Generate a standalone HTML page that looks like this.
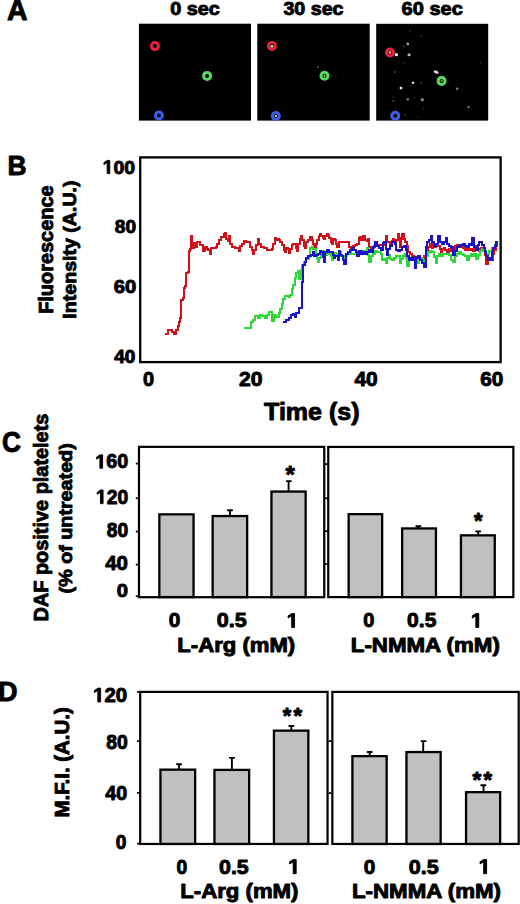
<!DOCTYPE html>
<html><head><meta charset="utf-8"><title>Figure</title>
<style>
html,body{margin:0;padding:0;background:#fff;}
body{width:520px;height:904px;overflow:hidden;}
svg{display:block;font-family:"Liberation Sans", sans-serif;}
</style></head>
<body>
<svg width="520" height="904" viewBox="0 0 520 904" fill="#000">
<rect width="520" height="904" fill="#fff"/>
<text x="7.04" y="19.95" font-size="28.78" font-weight="bold" textLength="20.56" lengthAdjust="spacingAndGlyphs" stroke="#000" stroke-width="0.9" stroke-linejoin="round">A</text>
<text x="170.17" y="14.67" font-size="18.22" font-weight="bold" textLength="49.67" lengthAdjust="spacingAndGlyphs" stroke="#000" stroke-width="0.9" stroke-linejoin="round">0 sec</text>
<text x="283.40" y="14.65" font-size="18.18" font-weight="bold" textLength="60.13" lengthAdjust="spacingAndGlyphs" stroke="#000" stroke-width="0.9" stroke-linejoin="round">30 sec</text>
<text x="401.62" y="14.67" font-size="18.22" font-weight="bold" textLength="61.22" lengthAdjust="spacingAndGlyphs" stroke="#000" stroke-width="0.9" stroke-linejoin="round">60 sec</text>
<rect x="138.9" y="23.7" width="112.1" height="96.9" fill="#000"/>
<rect x="257.3" y="23.7" width="112.4" height="96.9" fill="#000"/>
<rect x="376.2" y="23.8" width="112.0" height="96.8" fill="#000"/>
<defs><filter id="bl" x="-50%" y="-50%" width="200%" height="200%"><feGaussianBlur stdDeviation="0.55"/></filter><filter id="bl2" x="-100%" y="-100%" width="300%" height="300%"><feGaussianBlur stdDeviation="0.7"/></filter></defs>
<g filter="url(#bl)">
<circle cx="154.9" cy="46.1" r="3.5" fill="none" stroke="#e8203e" stroke-width="3.0"/>
<circle cx="207.1" cy="75.9" r="3.5" fill="none" stroke="#5ada5a" stroke-width="3.0"/>
<circle cx="158.9" cy="115.5" r="3.5" fill="none" stroke="#3c5ee8" stroke-width="3.0"/>
<circle cx="271.9" cy="46.0" r="3.5" fill="none" stroke="#e8203e" stroke-width="3.0"/>
<circle cx="324.5" cy="75.8" r="3.5" fill="none" stroke="#5ada5a" stroke-width="3.0"/>
<circle cx="275.8" cy="115.9" r="3.5" fill="none" stroke="#3c5ee8" stroke-width="3.0"/>
<circle cx="390.0" cy="52.5" r="3.5" fill="none" stroke="#e8203e" stroke-width="3.0"/>
<circle cx="441.6" cy="80.9" r="3.5" fill="none" stroke="#5ada5a" stroke-width="3.0"/>
<circle cx="395.3" cy="115.7" r="3.5" fill="none" stroke="#3c5ee8" stroke-width="3.0"/>
</g>
<g filter="url(#bl2)">
<circle cx="271.9" cy="46.3" r="1.4" fill="#d8e8a8"/>
<circle cx="324.5" cy="75.8" r="1.1" fill="#b0d890"/>
<circle cx="275.8" cy="116.2" r="1.1" fill="#d0e0ff"/>
<circle cx="318" cy="66.8" r="0.9" fill="#666"/>
<circle cx="390.0" cy="52.5" r="1.4" fill="#d0a040"/>
<circle cx="441.6" cy="80.9" r="1.1" fill="#80a040"/>
<circle cx="396.4" cy="54.7" r="1.6" fill="#f4f4f4"/>
<circle cx="407.8" cy="43.9" r="1.3" fill="#aaa"/>
<circle cx="409" cy="54.7" r="1.5" fill="#bbb"/>
<circle cx="404" cy="46.5" r="0.9" fill="#444"/>
<circle cx="421.2" cy="35.8" r="1.0" fill="#333"/>
<circle cx="404.5" cy="62.7" r="0.9" fill="#333"/>
<circle cx="410" cy="31" r="0.9" fill="#2a2a2a"/>
<circle cx="394.8" cy="72" r="1.1" fill="#444"/>
<circle cx="413.1" cy="82.8" r="1.3" fill="#ddd"/>
<circle cx="401" cy="88.1" r="1.4" fill="#eee"/>
<circle cx="421.2" cy="82.8" r="1.0" fill="#383838"/>
<circle cx="407.8" cy="99.4" r="1.3" fill="#777"/>
<circle cx="422.3" cy="99.7" r="1.6" fill="#888"/>
<circle cx="393.2" cy="101" r="1.0" fill="#444"/>
<circle cx="393.2" cy="97.3" r="0.9" fill="#2a2a2a"/>
<circle cx="414.2" cy="97.8" r="0.9" fill="#2a2a2a"/>
<circle cx="423.4" cy="108.6" r="1.0" fill="#2a2a2a"/>
<circle cx="405" cy="114.5" r="1.0" fill="#2a2a2a"/>
<circle cx="418" cy="116.7" r="0.9" fill="#222"/>
<circle cx="457.2" cy="88.8" r="1.2" fill="#888"/>
<circle cx="468.6" cy="107" r="1.2" fill="#777"/>
<circle cx="480.4" cy="62.5" r="0.9" fill="#333"/>
<circle cx="147" cy="115.5" r="1.3" fill="#0a0a28"/>
<ellipse cx="436.2" cy="72.1" rx="2.6" ry="1.5" fill="#e8c8d8" transform="rotate(20 436.2 72.1)"/>
</g>
<text x="7.48" y="175.35" font-size="28.05" font-weight="bold" textLength="19.06" lengthAdjust="spacingAndGlyphs" stroke="#000" stroke-width="0.9" stroke-linejoin="round">B</text>
<text x="102.63" y="173.56" font-size="19.07" font-weight="bold" textLength="32.32" lengthAdjust="spacingAndGlyphs" stroke="#000" stroke-width="0.9" stroke-linejoin="round"> 00</text>
<path transform="translate(102.63 173.56) scale(0.00946 -0.00931)" d="M478,0 L478,1170 L140,959 L140,1180 L493,1409 L759,1409 L759,0 Z" stroke="#000" stroke-width="96.7" stroke-linejoin="round" vector-effect="none"/>
<text x="114.84" y="232.96" font-size="19.07" font-weight="bold" textLength="21.29" lengthAdjust="spacingAndGlyphs" stroke="#000" stroke-width="0.9" stroke-linejoin="round">80</text>
<text x="113.71" y="293.17" font-size="18.50" font-weight="bold" textLength="22.58" lengthAdjust="spacingAndGlyphs" stroke="#000" stroke-width="0.9" stroke-linejoin="round">60</text>
<text x="114.16" y="363.28" font-size="17.51" font-weight="bold" textLength="21.06" lengthAdjust="spacingAndGlyphs" stroke="#000" stroke-width="0.9" stroke-linejoin="round">40</text>
<text x="143.06" y="385.95" font-size="20.06" font-weight="bold" textLength="11.11" lengthAdjust="spacingAndGlyphs" stroke="#000" stroke-width="0.9" stroke-linejoin="round">0</text>
<text x="239.02" y="385.76" font-size="19.92" font-weight="bold" textLength="23.50" lengthAdjust="spacingAndGlyphs" stroke="#000" stroke-width="0.9" stroke-linejoin="round">20</text>
<text x="354.43" y="385.76" font-size="19.92" font-weight="bold" textLength="23.38" lengthAdjust="spacingAndGlyphs" stroke="#000" stroke-width="0.9" stroke-linejoin="round">40</text>
<text x="480.29" y="385.95" font-size="20.20" font-weight="bold" textLength="23.01" lengthAdjust="spacingAndGlyphs" stroke="#000" stroke-width="0.9" stroke-linejoin="round">60</text>
<text x="264.07" y="419.85" font-size="23.74" font-weight="bold" textLength="95.52" lengthAdjust="spacingAndGlyphs" stroke="#000" stroke-width="0.9" stroke-linejoin="round">Time (s)</text>
<text transform="rotate(-90)" x="-313.88" y="53.45" font-size="19.83" font-weight="bold" textLength="128.51" lengthAdjust="spacingAndGlyphs" stroke="#000" stroke-width="0.9" stroke-linejoin="round">Fluorescence</text>
<text transform="rotate(-90)" x="-318.66" y="76.35" font-size="18.72" font-weight="bold" textLength="138.19" lengthAdjust="spacingAndGlyphs" stroke="#000" stroke-width="0.9" stroke-linejoin="round">Intensity (A.U.)</text>
<path d="M166.0,333.5 H168.0 V330.2 H170.0 V329.6 H172.0 V332.2 H173.9 V333.5 H175.9 V330.2 H177.9 V326.2 H178.6 V322.3 H179.9 V318.3 H180.6 V313.0 H181.2 V299.7 H182.6 V298.4 H183.9 V287.7 H185.2 V286.4 H185.9 V273.1 H187.9 V271.8 H188.6 V250.5 H189.9 V248.6 H190.5 V235.9 H191.9 V243.9 H193.2 V247.9 H193.9 V242.6 H195.2 V246.6 H196.5 V241.9 H198.5 V241.9 H199.8 V245.2 H201.8 V244.6 H202.5 V250.5 H204.5 V247.2 H206.5 V248.6 H207.8 V249.9 H209.8 V253.9 H211.3 V247.6 H213.4 V248.3 H216.1 V246.9 H217.4 V244.2 H219.4 V239.5 H221.4 V236.8 H223.5 V233.5 H224.8 V232.8 H226.2 V238.8 H227.5 V240.9 H228.8 V236.2 H230.2 V243.6 H232.2 V246.9 H234.9 V247.6 H236.9 V248.3 H238.9 V251.0 H240.3 V246.2 H241.6 V243.6 H243.6 V240.9 H246.3 V241.5 H248.4 V242.2 H250.4 V246.9 H251.7 V250.3 H253.1 V253.6 H254.4 V249.6 H256.4 V244.9 H257.8 V238.8 H259.1 V244.2 H261.1 V246.9 H263.8 V247.6 H266.5 V249.6 H269.2 V250.3 H271.9 V248.9 H273.3 V244.2 H274.6 V237.5 H275.9 V239.5 H278.0 V238.8 H279.3 V240.2 H280.1 V242.2 H282.1 V244.9 H283.5 V249.6 H284.8 V252.3 H286.2 V247.6 H287.5 V248.9 H288.8 V253.0 H290.2 V248.9 H291.5 V244.9 H292.9 V243.6 H294.2 V244.2 H295.6 V247.6 H296.9 V251.0 H298.3 V243.6 H299.6 V238.8 H301.0 V236.2 H302.3 V240.2 H303.6 V245.6 H305.0 V247.6 H306.3 V242.2 H308.4 V239.5 H310.4 V236.8 H311.7 V239.5 H313.1 V243.6 H314.4 V246.9 H315.8 V243.6 H317.1 V239.5 H318.5 V236.2 H319.8 V233.5 H321.1 V235.5 H322.5 V238.2 H323.8 V238.8 H325.2 V236.2 H326.5 V233.5 H327.9 V234.8 H329.2 V237.5 H330.6 V241.5 H331.9 V244.2 H333.3 V238.8 H334.6 V239.5 H335.9 V243.6 H337.3 V246.9 H338.6 V242.2 H340.4 V241.5 H343.1 V241.5 H345.8 V241.5 H347.8 V242.2 H349.1 V246.9 H351.2 V248.3 H353.2 V246.2 H355.2 V244.9 H357.2 V244.2 H358.6 V238.2 H359.9 V236.8 H361.2 V240.2 H363.3 V236.2 H364.6 V240.2 H366.6 V240.9 H368.0 V238.8 H369.3 V246.9 H370.7 V248.9 H372.0 V247.6 H374.0 V245.6 H376.7 V244.9 H379.4 V244.9 H381.4 V244.9 H383.5 V242.2 H385.5 V236.2 H386.8 V241.5 H388.2 V242.2 H390.2 V243.6 H391.5 V240.9 H392.9 V238.8 H394.2 V241.5 H396.2 V240.2 H397.6 V233.5 H398.9 V237.5 H399.6 V246.9 H400.9 V238.8 H402.3 V233.5 H404.0 V238.8 H405.4 V242.2 H406.7 V245.6 H408.1 V251.6 H410.1 V254.3 H412.1 V256.3 H414.1 V257.0 H416.2 V259.0 H418.2 V260.4 H420.2 V259.7 H422.2 V257.7 H424.2 V255.7 H426.2 V251.0 H428.3 V246.9 H430.3 V243.6 H431.6 V248.3 H433.0 V246.9 H435.0 V246.9 H436.3 V244.9 H437.7 V246.2 H439.7 V248.9 H441.0 V252.3 H442.4 V248.9 H443.7 V247.6 H445.1 V249.6 H447.1 V251.6 H449.1 V248.9 H450.5 V251.0 H452.5 V249.6 H454.5 V246.2 H456.5 V244.9 H458.5 V245.6 H460.6 V246.9 H462.6 V248.3 H464.6 V250.3 H466.6 V248.9 H468.6 V249.6 H471.0 V248.9 H473.0 V251.0 H475.0 V245.6 H477.0 V248.9 H479.0 V251.0 H481.0 V248.3 H483.1 V251.0 H485.1 V255.0 H486.4 V264.4 H487.8 V260.4 H489.8 V259.0 H491.1 V260.4 H492.5 V253.6 H493.8 V249.6 H495.9 V245.6 H497.2 V241.5" fill="none" stroke="#d01018" stroke-width="2.0" stroke-linejoin="miter" stroke-linecap="square" shape-rendering="crispEdges"/>
<path d="M245.4,327.7 H248.5 V327.7 H250.8 V322.3 H253.1 V320.0 H255.4 V316.2 H257.7 V317.7 H260.0 V315.4 H262.3 V316.2 H264.6 V317.7 H266.9 V314.6 H269.2 V311.5 H271.5 V313.1 H272.3 V320.8 H273.8 V314.6 H276.2 V316.9 H278.5 V313.1 H280.0 V308.5 H281.5 V303.8 H283.1 V299.2 H285.4 V296.2 H288.5 V296.9 H290.0 V294.6 H291.5 V289.2 H293.1 V285.4 H294.6 V277.7 H296.2 V273.1 H297.7 V270.8 H299.2 V279.2 H300.8 V270.0 H301.5 V265.4 H303.8 V262.3 H306.2 V259.2 H308.5 V256.9 H309.7 V252.3 H310.4 V247.6 H311.7 V246.9 H313.1 V248.9 H314.4 V248.9 H315.8 V255.0 H317.1 V257.7 H317.8 V261.7 H319.1 V257.7 H320.5 V252.3 H322.5 V251.0 H323.8 V253.6 H325.2 V255.0 H326.5 V252.3 H327.9 V254.3 H329.2 V253.0 H330.6 V256.3 H331.9 V260.4 H333.3 V256.3 H334.6 V253.0 H335.9 V253.6 H337.3 V256.3 H338.6 V253.0 H339.0 V252.3 H341.1 V256.3 H343.1 V259.0 H345.1 V256.3 H347.1 V253.6 H348.5 V252.3 H350.5 V253.6 H352.5 V254.3 H354.5 V253.6 H356.5 V254.3 H358.6 V252.3 H360.6 V251.6 H362.6 V251.0 H364.6 V251.0 H366.6 V248.3 H368.0 V255.0 H369.3 V261.7 H370.7 V256.3 H372.7 V253.6 H374.7 V251.0 H376.7 V252.3 H378.7 V251.6 H380.8 V253.6 H382.1 V260.4 H383.5 V259.0 H385.5 V263.1 H386.8 V257.7 H388.8 V255.0 H390.2 V259.0 H392.2 V260.4 H394.2 V257.7 H396.2 V255.7 H398.3 V256.3 H399.6 V263.1 H401.3 V259.0 H402.7 V256.3 H404.7 V253.6 H406.1 V257.7 H407.4 V265.8 H408.7 V260.4 H410.8 V257.7 H412.8 V259.7 H414.8 V260.4 H416.8 V263.1 H418.8 V260.4 H420.9 V257.7 H422.9 V261.0 H424.9 V260.4 H426.2 V256.3 H428.3 V252.3 H430.3 V251.0 H432.3 V252.3 H434.3 V257.0 H435.7 V263.1 H437.0 V256.3 H439.0 V253.6 H441.0 V256.3 H443.1 V253.6 H445.1 V254.3 H447.1 V253.6 H449.1 V255.0 H451.1 V259.7 H453.2 V261.7 H455.2 V256.3 H457.2 V253.6 H459.2 V252.3 H461.2 V253.6 H463.3 V255.0 H465.3 V255.7 H467.3 V260.4 H469.3 V256.3 H471.0 V253.6 H473.0 V256.3 H474.3 V254.3 H476.3 V259.0 H478.4 V255.0 H480.4 V251.0 H482.4 V248.9 H484.4 V251.0 H486.4 V253.6 H489.0 V251.0 H492.0 V248.0 H494.5 V245.0" fill="none" stroke="#2cd836" stroke-width="2.0" stroke-linejoin="miter" stroke-linecap="square" shape-rendering="crispEdges"/>
<path d="M283.8,322.3 H286.2 V320.0 H288.5 V317.7 H290.8 V315.4 H293.1 V313.8 H294.6 V316.9 H296.2 V313.1 H298.5 V312.3 H299.2 V307.7 H301.5 V305.4 H301.5 V282.3 H303.1 V279.2 H303.1 V265.4 H304.6 V262.3 H306.2 V257.7 H307.7 V256.2 H310.8 V254.6 H313.1 V252.3 H314.4 V255.7 H315.8 V255.0 H317.8 V253.6 H319.8 V251.0 H321.1 V251.6 H322.5 V257.0 H323.8 V261.7 H325.2 V252.3 H326.5 V250.3 H327.9 V250.3 H329.2 V252.3 H331.2 V252.3 H332.6 V255.0 H333.9 V257.7 H335.3 V255.7 H336.6 V256.3 H337.7 V260.4 H339.0 V251.0 H340.4 V255.0 H341.7 V255.7 H343.1 V260.4 H344.4 V264.4 H345.8 V253.6 H347.8 V252.3 H349.8 V249.6 H351.8 V248.3 H353.8 V249.6 H355.9 V251.6 H357.2 V255.7 H358.6 V251.0 H360.6 V254.3 H362.6 V252.3 H364.6 V254.3 H366.6 V252.3 H368.6 V249.6 H370.7 V251.6 H372.7 V246.9 H374.7 V242.2 H376.7 V245.6 H378.7 V247.6 H380.8 V250.3 H382.8 V242.9 H384.1 V241.5 H385.5 V248.9 H386.8 V255.0 H388.2 V248.9 H390.2 V245.6 H391.5 V242.2 H392.9 V242.2 H394.9 V244.2 H396.2 V249.6 H397.6 V251.0 H399.6 V250.3 H401.6 V246.9 H403.6 V245.6 H406.1 V250.3 H407.4 V256.3 H408.7 V260.4 H410.1 V257.7 H412.1 V260.4 H413.5 V257.0 H414.8 V267.8 H416.2 V257.7 H418.2 V256.3 H420.2 V260.4 H422.2 V263.1 H424.2 V267.1 H425.6 V246.9 H426.9 V242.2 H428.9 V240.2 H431.0 V236.2 H432.3 V242.2 H434.3 V246.2 H436.3 V243.6 H438.4 V236.2 H439.7 V242.2 H441.7 V243.6 H443.7 V241.5 H445.8 V238.2 H447.1 V243.6 H449.1 V245.6 H451.1 V246.9 H453.2 V255.0 H455.2 V251.0 H457.2 V246.9 H459.2 V246.2 H461.2 V244.9 H463.3 V244.2 H465.3 V245.6 H467.3 V246.9 H469.3 V244.2 H471.0 V244.9 H472.3 V238.2 H473.6 V246.9 H475.7 V249.6 H477.7 V244.9 H479.0 V242.2 H481.0 V241.5 H482.4 V244.9 H483.7 V248.3 H485.1 V252.3 H486.4 V256.3 H487.8 V260.4 H489.1 V257.7 H490.5 V260.4 H491.8 V252.3 H493.2 V248.3 H494.5 V246.2 H495.9 V241.5 H497.2 V242.2" fill="none" stroke="#1812c8" stroke-width="2.0" stroke-linejoin="miter" stroke-linecap="square" shape-rendering="crispEdges"/>
<rect x="140.2" y="157.4" width="360.45" height="204.7" fill="none" stroke="#000" stroke-width="2.3"/>
<text x="2.07" y="451.97" font-size="28.67" font-weight="bold" textLength="19.00" lengthAdjust="spacingAndGlyphs" stroke="#000" stroke-width="0.9" stroke-linejoin="round">C</text>
<text transform="rotate(-90)" x="-621.48" y="48.15" font-size="19.55" font-weight="bold" textLength="207.85" lengthAdjust="spacingAndGlyphs" stroke="#000" stroke-width="0.9" stroke-linejoin="round">DAF positive platelets</text>
<text transform="rotate(-90)" x="-593.43" y="71.65" font-size="19.13" font-weight="bold" textLength="150.17" lengthAdjust="spacingAndGlyphs" stroke="#000" stroke-width="0.9" stroke-linejoin="round">(% of untreated)</text>
<rect x="139.0" y="446.85" width="185.25" height="150.35" fill="none" stroke="#000" stroke-width="2.2"/>
<rect x="328.25" y="446.95" width="185.10" height="150.15" fill="none" stroke="#000" stroke-width="2.2"/>
<line x1="135.8" y1="463.6" x2="139" y2="463.6" stroke="#000" stroke-width="1.7"/>
<line x1="135.8" y1="498.2" x2="139" y2="498.2" stroke="#000" stroke-width="1.7"/>
<line x1="135.8" y1="531.6" x2="139" y2="531.6" stroke="#000" stroke-width="1.7"/>
<line x1="135.8" y1="564.6" x2="139" y2="564.6" stroke="#000" stroke-width="1.7"/>
<line x1="135.8" y1="596.2" x2="139" y2="596.2" stroke="#000" stroke-width="1.7"/>
<line x1="325" y1="464.1" x2="328" y2="464.1" stroke="#000" stroke-width="1.7"/>
<line x1="325" y1="498.3" x2="328" y2="498.3" stroke="#000" stroke-width="1.7"/>
<line x1="325" y1="531.2" x2="328" y2="531.2" stroke="#000" stroke-width="1.7"/>
<line x1="325" y1="564.1" x2="328" y2="564.1" stroke="#000" stroke-width="1.7"/>
<text x="95.30" y="468.26" font-size="19.49" font-weight="bold" textLength="32.85" lengthAdjust="spacingAndGlyphs" stroke="#000" stroke-width="0.9" stroke-linejoin="round"> 60</text>
<path transform="translate(95.30 468.26) scale(0.00961 -0.00952)" d="M478,0 L478,1170 L140,959 L140,1180 L493,1409 L759,1409 L759,0 Z" stroke="#000" stroke-width="94.6" stroke-linejoin="round" vector-effect="none"/>
<text x="95.93" y="503.66" font-size="19.92" font-weight="bold" textLength="32.21" lengthAdjust="spacingAndGlyphs" stroke="#000" stroke-width="0.9" stroke-linejoin="round"> 20</text>
<path transform="translate(95.93 503.66) scale(0.00943 -0.00972)" d="M478,0 L478,1170 L140,959 L140,1180 L493,1409 L759,1409 L759,0 Z" stroke="#000" stroke-width="92.6" stroke-linejoin="round" vector-effect="none"/>
<text x="106.74" y="537.46" font-size="19.77" font-weight="bold" textLength="21.40" lengthAdjust="spacingAndGlyphs" stroke="#000" stroke-width="0.9" stroke-linejoin="round">80</text>
<text x="105.24" y="569.76" font-size="19.92" font-weight="bold" textLength="22.75" lengthAdjust="spacingAndGlyphs" stroke="#000" stroke-width="0.9" stroke-linejoin="round">40</text>
<text x="116.75" y="597.16" font-size="19.21" font-weight="bold" textLength="11.23" lengthAdjust="spacingAndGlyphs" stroke="#000" stroke-width="0.9" stroke-linejoin="round">0</text>
<rect x="159.35" y="514.35" width="34.20" height="82.75" fill="#c0c0c0" stroke="#000" stroke-width="2.3"/>
<rect x="212.65" y="516.05" width="34.50" height="81.05" fill="#c0c0c0" stroke="#000" stroke-width="2.3"/>
<line x1="230.0" y1="510.3" x2="230.0" y2="515.9" stroke="#000" stroke-width="1.9"/>
<line x1="227.90" y1="510.3" x2="232.10" y2="510.3" stroke="#000" stroke-width="1.9" stroke-linecap="round"/>
<rect x="271.45" y="491.55" width="34.20" height="105.55" fill="#c0c0c0" stroke="#000" stroke-width="2.3"/>
<line x1="288.6" y1="481.1" x2="288.6" y2="491.4" stroke="#000" stroke-width="1.9"/>
<line x1="286.75" y1="481.1" x2="290.95" y2="481.1" stroke="#000" stroke-width="1.9" stroke-linecap="round"/>
<text x="285.58" y="483.28" font-size="24.46" font-weight="bold" textLength="9.29" lengthAdjust="spacingAndGlyphs" stroke="#000" stroke-width="0.9" stroke-linejoin="round">*</text>
<rect x="348.65" y="514.15" width="33.50" height="82.95" fill="#c0c0c0" stroke="#000" stroke-width="2.3"/>
<rect x="402.15" y="528.45" width="33.80" height="68.65" fill="#c0c0c0" stroke="#000" stroke-width="2.3"/>
<line x1="418.4" y1="526.3" x2="418.4" y2="528.3" stroke="#000" stroke-width="1.9"/>
<line x1="416.30" y1="526.3" x2="420.50" y2="526.3" stroke="#000" stroke-width="1.9" stroke-linecap="round"/>
<rect x="460.95" y="535.35" width="33.80" height="61.75" fill="#c0c0c0" stroke="#000" stroke-width="2.3"/>
<line x1="478.2" y1="531.4" x2="478.2" y2="535.2" stroke="#000" stroke-width="1.9"/>
<line x1="476.10" y1="531.4" x2="480.30" y2="531.4" stroke="#000" stroke-width="1.9" stroke-linecap="round"/>
<text x="473.99" y="528.11" font-size="22.04" font-weight="bold" textLength="8.59" lengthAdjust="spacingAndGlyphs" stroke="#000" stroke-width="0.9" stroke-linejoin="round">*</text>
<text x="168.83" y="627.45" font-size="20.20" font-weight="bold" textLength="11.58" lengthAdjust="spacingAndGlyphs" stroke="#000" stroke-width="0.9" stroke-linejoin="round">0</text>
<text x="216.70" y="627.45" font-size="20.20" font-weight="bold" textLength="29.95" lengthAdjust="spacingAndGlyphs" stroke="#000" stroke-width="0.9" stroke-linejoin="round">0.5</text>
<text x="286.69" y="627.45" font-size="20.20" font-weight="bold" textLength="11.80" lengthAdjust="spacingAndGlyphs" stroke="#000" stroke-width="0.9" stroke-linejoin="round"> </text>
<path transform="translate(286.69 627.45) scale(0.01036 -0.00987)" d="M478,0 L478,1170 L140,959 L140,1180 L493,1409 L759,1409 L759,0 Z" stroke="#000" stroke-width="91.2" stroke-linejoin="round" vector-effect="none"/>
<text x="363.16" y="627.45" font-size="20.20" font-weight="bold" textLength="11.11" lengthAdjust="spacingAndGlyphs" stroke="#000" stroke-width="0.9" stroke-linejoin="round">0</text>
<text x="407.12" y="627.45" font-size="20.20" font-weight="bold" textLength="29.22" lengthAdjust="spacingAndGlyphs" stroke="#000" stroke-width="0.9" stroke-linejoin="round">0.5</text>
<text x="470.89" y="627.45" font-size="20.20" font-weight="bold" textLength="11.80" lengthAdjust="spacingAndGlyphs" stroke="#000" stroke-width="0.9" stroke-linejoin="round"> </text>
<path transform="translate(470.89 627.45) scale(0.01036 -0.00987)" d="M478,0 L478,1170 L140,959 L140,1180 L493,1409 L759,1409 L759,0 Z" stroke="#000" stroke-width="91.2" stroke-linejoin="round" vector-effect="none"/>
<text x="177.37" y="651.75" font-size="19.41" font-weight="bold" textLength="117.88" lengthAdjust="spacingAndGlyphs" stroke="#000" stroke-width="0.9" stroke-linejoin="round">L-Arg (mM)</text>
<text x="350.77" y="651.95" font-size="19.55" font-weight="bold" textLength="149.09" lengthAdjust="spacingAndGlyphs" stroke="#000" stroke-width="0.9" stroke-linejoin="round">L-NMMA (mM)</text>
<text x="-1.96" y="701.45" font-size="28.34" font-weight="bold" textLength="19.55" lengthAdjust="spacingAndGlyphs" stroke="#000" stroke-width="0.9" stroke-linejoin="round">D</text>
<text transform="rotate(-90)" x="-817.49" y="68.55" font-size="19.69" font-weight="bold" textLength="110.34" lengthAdjust="spacingAndGlyphs" stroke="#000" stroke-width="0.9" stroke-linejoin="round">M.F.I. (A.U.)</text>
<rect x="140.2" y="691.9" width="187.35" height="152.05" fill="none" stroke="#000" stroke-width="2.2"/>
<rect x="332.35" y="691.9" width="186.35" height="152.05" fill="none" stroke="#000" stroke-width="2.2"/>
<line x1="137.0" y1="692.0" x2="140" y2="692.0" stroke="#000" stroke-width="1.7"/>
<line x1="137.0" y1="741.2" x2="140" y2="741.2" stroke="#000" stroke-width="1.7"/>
<line x1="137.0" y1="792.9" x2="140" y2="792.9" stroke="#000" stroke-width="1.7"/>
<line x1="137.0" y1="843.7" x2="140" y2="843.7" stroke="#000" stroke-width="1.7"/>
<line x1="328.5" y1="741.1" x2="331.5" y2="741.1" stroke="#000" stroke-width="1.7"/>
<line x1="328.5" y1="793.1" x2="331.5" y2="793.1" stroke="#000" stroke-width="1.7"/>
<text x="93.06" y="701.95" font-size="20.06" font-weight="bold" textLength="34.03" lengthAdjust="spacingAndGlyphs" stroke="#000" stroke-width="0.9" stroke-linejoin="round"> 20</text>
<path transform="translate(93.06 701.95) scale(0.00996 -0.00979)" d="M478,0 L478,1170 L140,959 L140,1180 L493,1409 L759,1409 L759,0 Z" stroke="#000" stroke-width="91.9" stroke-linejoin="round" vector-effect="none"/>
<text x="106.34" y="748.56" font-size="19.77" font-weight="bold" textLength="21.51" lengthAdjust="spacingAndGlyphs" stroke="#000" stroke-width="0.9" stroke-linejoin="round">80</text>
<text x="105.25" y="799.76" font-size="19.92" font-weight="bold" textLength="21.80" lengthAdjust="spacingAndGlyphs" stroke="#000" stroke-width="0.9" stroke-linejoin="round">40</text>
<text x="115.79" y="848.56" font-size="19.49" font-weight="bold" textLength="10.64" lengthAdjust="spacingAndGlyphs" stroke="#000" stroke-width="0.9" stroke-linejoin="round">0</text>
<rect x="160.45" y="769.65" width="34.70" height="74.30" fill="#c0c0c0" stroke="#000" stroke-width="2.3"/>
<line x1="179.1" y1="764.3" x2="179.1" y2="769.5" stroke="#000" stroke-width="1.9"/>
<line x1="177.00" y1="764.3" x2="181.20" y2="764.3" stroke="#000" stroke-width="1.9" stroke-linecap="round"/>
<rect x="214.45" y="769.90" width="34.70" height="74.05" fill="#c0c0c0" stroke="#000" stroke-width="2.3"/>
<line x1="231.9" y1="757.9" x2="231.9" y2="769.75" stroke="#000" stroke-width="1.9"/>
<line x1="229.90" y1="757.9" x2="234.10" y2="757.9" stroke="#000" stroke-width="1.9" stroke-linecap="round"/>
<rect x="273.95" y="730.65" width="34.40" height="113.30" fill="#c0c0c0" stroke="#000" stroke-width="2.3"/>
<line x1="291.3" y1="726.0" x2="291.3" y2="730.5" stroke="#000" stroke-width="1.9"/>
<line x1="289.20" y1="726.0" x2="293.40" y2="726.0" stroke="#000" stroke-width="1.9" stroke-linecap="round"/>
<text x="282.69" y="723.11" font-size="22.04" font-weight="bold" textLength="8.49" lengthAdjust="spacingAndGlyphs" stroke="#000" stroke-width="0.9" stroke-linejoin="round">*</text>
<text x="293.59" y="723.11" font-size="22.04" font-weight="bold" textLength="8.59" lengthAdjust="spacingAndGlyphs" stroke="#000" stroke-width="0.9" stroke-linejoin="round">*</text>
<rect x="352.40" y="756.15" width="34.25" height="87.80" fill="#c0c0c0" stroke="#000" stroke-width="2.3"/>
<line x1="369.7" y1="752.0" x2="369.7" y2="756.0" stroke="#000" stroke-width="1.9"/>
<line x1="367.60" y1="752.0" x2="371.80" y2="752.0" stroke="#000" stroke-width="1.9" stroke-linecap="round"/>
<rect x="406.45" y="752.05" width="34.20" height="91.90" fill="#c0c0c0" stroke="#000" stroke-width="2.3"/>
<line x1="423.2" y1="741.1" x2="423.2" y2="751.9" stroke="#000" stroke-width="1.9"/>
<line x1="421.50" y1="741.1" x2="425.70" y2="741.1" stroke="#000" stroke-width="1.9" stroke-linecap="round"/>
<rect x="466.05" y="792.15" width="34.10" height="51.80" fill="#c0c0c0" stroke="#000" stroke-width="2.3"/>
<line x1="483.5" y1="785.2" x2="483.5" y2="792.0" stroke="#000" stroke-width="1.9"/>
<line x1="481.20" y1="785.2" x2="485.40" y2="785.2" stroke="#000" stroke-width="1.9" stroke-linecap="round"/>
<text x="472.58" y="786.71" font-size="22.04" font-weight="bold" textLength="8.79" lengthAdjust="spacingAndGlyphs" stroke="#000" stroke-width="0.9" stroke-linejoin="round">*</text>
<text x="483.59" y="786.71" font-size="22.04" font-weight="bold" textLength="8.59" lengthAdjust="spacingAndGlyphs" stroke="#000" stroke-width="0.9" stroke-linejoin="round">*</text>
<text x="176.48" y="873.65" font-size="20.62" font-weight="bold" textLength="10.76" lengthAdjust="spacingAndGlyphs" stroke="#000" stroke-width="0.9" stroke-linejoin="round">0</text>
<text x="219.00" y="873.65" font-size="20.62" font-weight="bold" textLength="29.74" lengthAdjust="spacingAndGlyphs" stroke="#000" stroke-width="0.9" stroke-linejoin="round">0.5</text>
<text x="288.14" y="873.65" font-size="20.64" font-weight="bold" textLength="12.05" lengthAdjust="spacingAndGlyphs" stroke="#000" stroke-width="0.9" stroke-linejoin="round"> </text>
<path transform="translate(288.14 873.65) scale(0.01058 -0.01008)" d="M478,0 L478,1170 L140,959 L140,1180 L493,1409 L759,1409 L759,0 Z" stroke="#000" stroke-width="89.3" stroke-linejoin="round" vector-effect="none"/>
<text x="363.83" y="873.65" font-size="20.62" font-weight="bold" textLength="11.58" lengthAdjust="spacingAndGlyphs" stroke="#000" stroke-width="0.9" stroke-linejoin="round">0</text>
<text x="408.80" y="873.65" font-size="20.62" font-weight="bold" textLength="29.95" lengthAdjust="spacingAndGlyphs" stroke="#000" stroke-width="0.9" stroke-linejoin="round">0.5</text>
<text x="478.59" y="873.65" font-size="20.64" font-weight="bold" textLength="12.05" lengthAdjust="spacingAndGlyphs" stroke="#000" stroke-width="0.9" stroke-linejoin="round"> </text>
<path transform="translate(478.59 873.65) scale(0.01058 -0.01008)" d="M478,0 L478,1170 L140,959 L140,1180 L493,1409 L759,1409 L759,0 Z" stroke="#000" stroke-width="89.3" stroke-linejoin="round" vector-effect="none"/>
<text x="180.27" y="898.45" font-size="19.83" font-weight="bold" textLength="118.19" lengthAdjust="spacingAndGlyphs" stroke="#000" stroke-width="0.9" stroke-linejoin="round">L-Arg (mM)</text>
<text x="351.97" y="898.45" font-size="19.55" font-weight="bold" textLength="148.99" lengthAdjust="spacingAndGlyphs" stroke="#000" stroke-width="0.9" stroke-linejoin="round">L-NMMA (mM)</text>
</svg>
</body></html>
